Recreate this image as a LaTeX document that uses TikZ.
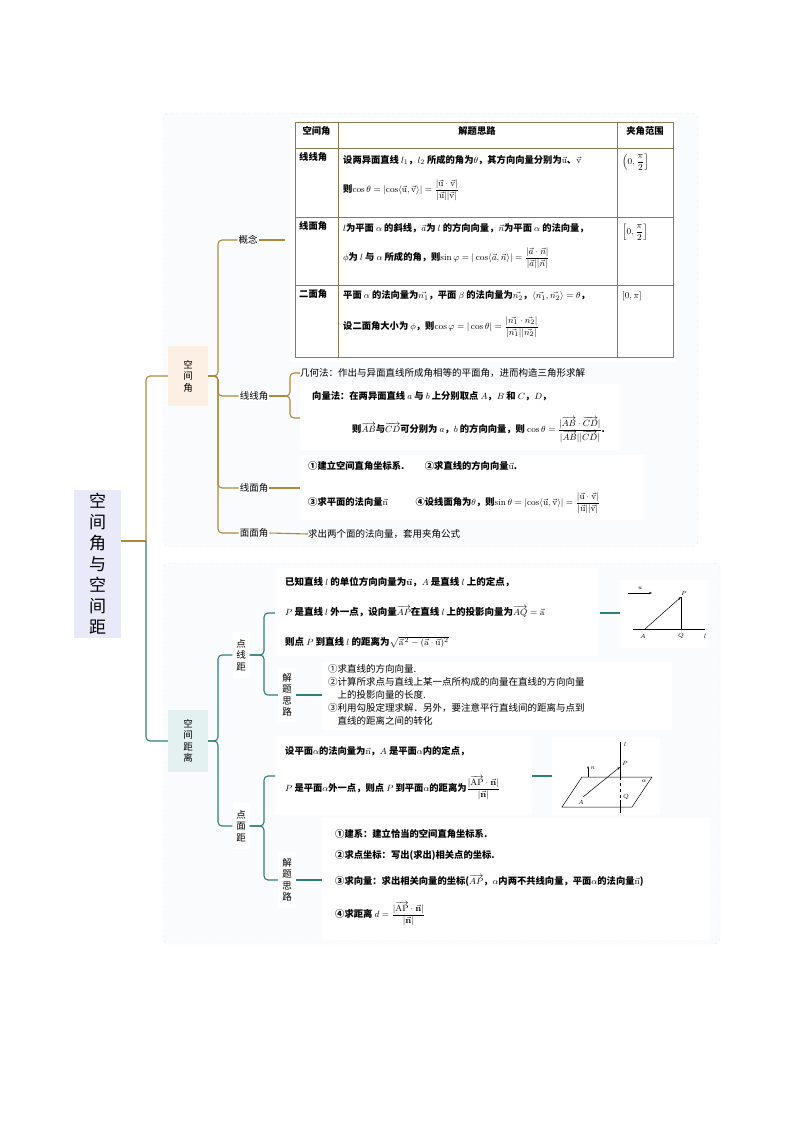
\documentclass[tikz,border=0pt]{standalone}
\usepackage{amsmath}
\usepackage[no-math]{fontspec}
\setmainfont{Noto Sans CJK SC}
\usetikzlibrary{arrows.meta}
\definecolor{gold}{HTML}{B08A3A}
\definecolor{teal2}{HTML}{2F7F78}
\definecolor{rootc}{HTML}{E8EAFA}
\definecolor{angc}{HTML}{FCEFE3}
\definecolor{distc}{HTML}{E3F1F0}
\definecolor{panel}{HTML}{FAFBFC}
\definecolor{panelb}{HTML}{E6E8EA}
\definecolor{tbl}{HTML}{8A7A55}
\begin{document}
\begin{tikzpicture}[x=1pt,y=-1pt,
  lbl/.style={font=\fontsize{9.5}{11}\selectfont, inner sep=1pt},
  txt/.style={font=\fontsize{9.3}{11}\selectfont\bfseries, inner sep=0pt, anchor=west},
  txtn/.style={font=\fontsize{9.5}{12}\selectfont, inner sep=0pt, anchor=west},
  vbox/.style={font=\fontsize{9.5}{11.5}\selectfont, align=center, inner sep=0pt, minimum width=40pt},
  gl/.style={draw=gold, line width=1.1pt, rounded corners=4pt},
  tl/.style={draw=teal2, line width=1.1pt, rounded corners=4pt},
  pnl/.style={fill=panel, draw=panelb, dashed, rounded corners=6pt}]
\useasboundingbox (0,0) rectangle (794,1123);
% panels
\draw[pnl] (163,113) rectangle (698,547);
\draw[pnl] (163,563) rectangle (720,944);
% root
\node[fill=rootc, minimum width=47pt, minimum height=148pt, font=\fontsize{17}{21}\selectfont, align=center, inner sep=0pt] (root) at (97.5,564) {空\\间\\角\\与\\空\\间\\距};
\node[fill=angc, vbox, minimum height=60pt] (ang) at (188,376) {空\\间\\角};
\node[fill=distc, vbox, minimum height=62pt] (dist) at (188,741) {空\\间\\距\\离};
\draw[draw=gold, line width=1.1pt] (root.east |- 0,541) -- (146,541);
\draw[gl] (146,541) |- (ang.west);
\draw[tl] (146,541) |- (dist.west);
% angle branches
\node[lbl, fill=white] (gn) at (248,240) {概念};
\node[lbl, fill=white] (xx) at (254,396) {线线角};
\node[lbl, fill=white] (xm) at (254,488) {线面角};
\node[lbl, fill=white] (mm) at (254,533) {面面角};
\foreach \c in {gn,xx,xm,mm}{\draw[gl] (ang.east) -- (218,376) |- (\c.west);}
% table
\fill[white] (290,118) rectangle (677,362);
\draw[tbl, line width=0.6pt] (295,122) rectangle (673,357);
\foreach \yy in {148,217,285} \draw[tbl, line width=0.6pt] (295,\yy) -- (673,\yy);
\draw[tbl, line width=0.6pt] (338,122) -- (338,357) (617,122) -- (617,357);
\node[txt, anchor=center] (h1) at (316.5,131) {空间角};
\node[txt, anchor=center] (h2) at (477,131) {解题思路};
\node[txt, anchor=center] (h3) at (645,131) {夹角范围};
\coordinate (tblin) at (285,240);
\draw[gl] (gn.east) -- (tblin);
\node[txt, anchor=north west] (r1) at (299,152) {线线角};
\node[txt, anchor=north west] (r2) at (299,221) {线面角};
\node[txt, anchor=north west] (r3) at (299,289) {二面角};
\node[txt] at (343,160) {设两异面直线 $l_1$，$l_2$ 所成的角为$\theta$，其方向向量分别为$\vec{\mathrm u}$、$\vec{\mathrm v}$};
\node[txt] at (343,190) {则$\cos\theta=\left|\cos\langle\vec{\mathrm u},\vec{\mathrm v}\rangle\right|=\dfrac{|\vec{\mathrm u}\cdot\vec{\mathrm v}|}{|\vec{\mathrm u}||\vec{\mathrm v}|}$};
\node[txt] at (622,162) {$\left(0,\dfrac{\pi}{2}\right]$};
\node[txt] at (343,228) {$l$为平面 $\alpha$ 的斜线，$\vec a$为 $l$ 的方向向量，$\vec n$为平面 $\alpha$ 的法向量，};
\node[txt] at (343,258) {$\phi$为 $l$ 与 $\alpha$ 所成的角，则$\sin\varphi=|\cos\langle\vec a,\vec n\rangle|=\dfrac{|\vec a\cdot\vec n|}{|\vec a||\vec n|}$};
\node[txt] at (622,232) {$\left[0,\dfrac{\pi}{2}\right]$};
\node[txt] at (343,296) {平面 $\alpha$ 的法向量为$\vec{n_1}$，平面 $\beta$ 的法向量为$\vec{n_2}$，$\langle\vec{n_1},\vec{n_2}\rangle=\theta$，};
\node[txt] at (343,327) {设二面角大小为 $\phi$，则$\cos\varphi=|\cos\theta|=\dfrac{|\vec{n_1}\cdot\vec{n_2}|}{|\vec{n_1}||\vec{n_2}|}$};
\node[txt] at (622,296) {$[0,\pi]$};
% xianxian
\coordinate (xxj) at (285,396);
\draw[gl] (xx.east) -- (xxj);
\node[txtn] (jh) at (300,373) {几何法：作出与异面直线所成角相等的平面角，进而构造三角形求解};
\fill[white] (300,384) rectangle (620,450);
\node[txt] (xl1) at (312,396) {向量法：在两异面直线 $a$ 与 $b$ 上分别取点 $A$，$B$ 和 $C$，$D$，};
\node[txt] (xl2) at (352,430) {则$\overrightarrow{AB}$与$\overrightarrow{CD}$可分别为 $a$，$b$ 的方向向量，则 $\cos\theta=\dfrac{|\overrightarrow{AB}\cdot\overrightarrow{CD}|}{|\overrightarrow{AB}||\overrightarrow{CD}|}$.};
\draw[gl] (xxj) -- (290,396) |- (jh.west);
\draw[gl] (xxj) -- (290,396) |- (300,418);
% xianmian
\fill[white] (300,455) rectangle (645,520);
\coordinate (xmj) at (300,488);
\draw[gl] (xm.east) -- (xmj);
\node[txt] at (308,466) {①建立空间直角坐标系.\hspace{2.2em}②求直线的方向向量$\vec{\mathrm u}$.};
\node[txt] at (308,503) {③求平面的法向量$\vec{\mathrm n}$\hspace{3em}④设线面角为$\theta$，则$\sin\theta=\left|\cos\langle\vec{\mathrm u},\vec{\mathrm v}\rangle\right|=\dfrac{|\vec{\mathrm u}\cdot\vec{\mathrm v}|}{|\vec{\mathrm u}||\vec{\mathrm v}|}$};
% mianmian
\node[txtn] (mmt) at (308,534) {求出两个面的法向量，套用夹角公式};
\draw[gl] (mm.east) -- (mmt.west);
% distance branches
\node[vbox, fill=white, minimum width=17pt, minimum height=46pt] (dx) at (241,655) {点\\线\\距};
\node[vbox, fill=white, minimum width=17pt, minimum height=46pt] (dm) at (241,826) {点\\面\\距};
\foreach \c in {dx,dm}{\draw[tl] (dist.east) -- (218,741) |- (\c.west);}
% dianxian
\fill[white] (275,568) rectangle (598,656);
\node[txt, font=\fontsize{9.5}{11}\selectfont\bfseries] at (285,582) {已知直线 $l$ 的单位方向向量为$\vec{\mathbf u}$，$A$ 是直线 $l$ 上的定点，};
\node[txt, font=\fontsize{9.5}{11}\selectfont\bfseries] (dxt) at (285,612) {$P$ 是直线 $l$ 外一点，设向量$\overrightarrow{AP}$在直线 $l$ 上的投影向量为$\overrightarrow{AQ}=\vec{\mathrm a}$};
\node[txt, font=\fontsize{9.5}{11}\selectfont\bfseries] at (285,642) {则点 $P$ 到直线 $l$ 的距离为$\sqrt{\vec{\mathrm a}^{\,2}-(\vec{\mathrm a}\cdot\vec{\mathrm u})^2}$};
\node[vbox, fill=white, minimum width=18pt, minimum height=54pt] (jt1) at (287,695) {解\\题\\思\\路};
\coordinate (dxb) at (275,613);
\draw[tl] (dx.east) -- (264,655) |- (dxb);
\draw[tl] (dx.east) -- (264,655) |- (jt1.west);
\fill[white] (322,662) rectangle (672,730);
\node[txtn, anchor=north west, align=left, font=\fontsize{9.5}{13}\selectfont] (st1) at (328,664) {①求直线的方向向量.\\②计算所求点与直线上某一点所构成的向量在直线的方向向量\\\hspace*{1em}上的投影向量的长度.\\③利用勾股定理求解．另外，要注意平行直线间的距离与点到\\\hspace*{1em}直线的距离之间的转化};
\draw[tl] (jt1.east) -- (322,695);
% figure 1
\fill[white] (620,580) rectangle (708,648);
\coordinate (f1) at (600,613);
\draw[draw=teal2, line width=1.1pt] (f1) -- (620,613);
\draw[-{Stealth[length=3pt]}, line width=0.5pt] (628,593) -- (652,593);
\node[font=\fontsize{6}{7}\selectfont] at (640,588) {$u$};
\draw[line width=0.5pt] (633,629) -- (705,629);
\draw[-{Stealth[length=3pt]}, line width=0.5pt] (645,629) -- (681,597);
\draw[line width=0.7pt] (681,597) -- (681,629);
\node[font=\fontsize{6}{7}\selectfont] at (643,636) {$A$};
\node[font=\fontsize{6}{7}\selectfont] at (681,636) {$Q$};
\node[font=\fontsize{6}{7}\selectfont] at (684,593) {$P$};
\node[font=\fontsize{6}{7}\selectfont] at (705,636) {$l$};
% dianmian
\fill[white] (275,736) rectangle (532,815);
\node[txt] at (285,751) {设平面$\alpha$的法向量为$\vec{\mathrm n}$，$A$ 是平面$\alpha$内的定点，};
\node[txt] at (285,788) {$P$ 是平面$\alpha$外一点，则点 $P$ 到平面$\alpha$的距离为$\dfrac{|\overrightarrow{\mathrm{AP}}\cdot\vec{\mathbf n}|}{|\vec{\mathbf n}|}$};
\node[vbox, fill=white, minimum width=18pt, minimum height=56pt] (jt2) at (287,880) {解\\题\\思\\路};
\coordinate (dmb) at (275,776);
\draw[tl] (dm.east) -- (264,826) |- (dmb);
\draw[tl] (dm.east) -- (264,826) |- (jt2.west);
\fill[white] (322,818) rectangle (710,940);
\node[txt] at (335,834) {①建系：建立恰当的空间直角坐标系.};
\node[txt] at (335,855) {②求点坐标：写出(求出)相关点的坐标.};
\node[txt] at (335,881) {③求向量：求出相关向量的坐标($\overrightarrow{AP}$，$\alpha$内两不共线向量，平面$\alpha$的法向量$\vec{\mathrm n}$)};
\node[txt] at (335,914) {④求距离 $d=\dfrac{|\overrightarrow{\mathrm{AP}}\cdot\vec{\mathbf n}|}{|\vec{\mathbf n}|}$};
\draw[tl] (jt2.east) -- (322,880);
% figure 2
\fill[white] (552,737) rectangle (660,815);
\coordinate (f2) at (532,776);
\draw[draw=teal2, line width=1.1pt] (f2) -- (552,776);
\draw[line width=0.5pt] (562,807) -- (582,777) -- (652,777) -- (632,807) -- cycle;
\draw[line width=0.5pt] (620,742) -- (620,777);
\draw[line width=0.5pt, dashed] (620,777) -- (620,800);
\draw[line width=0.5pt] (620,800) -- (620,813);
\draw[-{Stealth[length=3pt]}, line width=0.5pt] (583,797) -- (620,767);
\draw[-{Stealth[length=2.5pt]}, line width=0.5pt] (588,777) -- (588,766);
\node[font=\fontsize{6}{7}\selectfont] at (593,768) {$n$};
\node[font=\fontsize{6}{7}\selectfont] at (625,744) {$l$};
\node[font=\fontsize{6}{7}\selectfont] at (625,763) {$P$};
\node[font=\fontsize{6}{7}\selectfont] at (626,797) {$Q$};
\node[font=\fontsize{6}{7}\selectfont] at (581,802) {$A$};
\node[font=\fontsize{6}{7}\selectfont] at (644,781) {$\alpha$};
\end{tikzpicture}
\end{document}
